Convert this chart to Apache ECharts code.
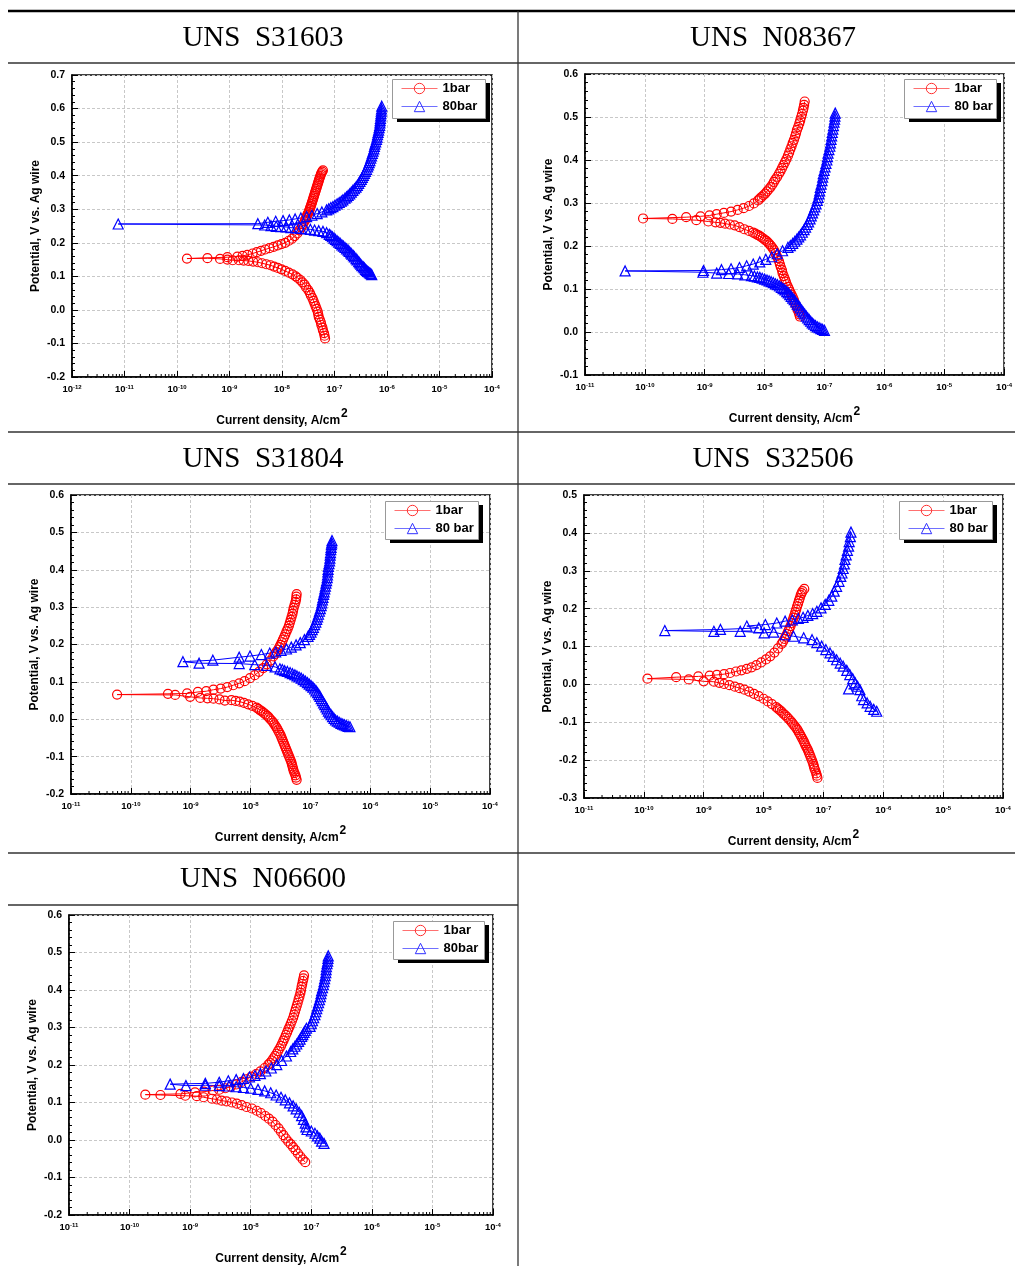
<!DOCTYPE html>
<html><head><meta charset="utf-8">
<script src="https://cdn.jsdelivr.net/npm/echarts@6/dist/echarts.min.js"></script>
<style>html,body{margin:0;padding:0;background:#fff}#c{width:1015px;height:1266px}</style>
</head><body><div id="c"></div>
<script>
// Each point: [log10(current density, A/cm2), potential V vs. Ag wire], in sweep order
const s31603_1bar = [[-7.18,-0.085],[-7.19,-0.077],[-7.20,-0.069],[-7.22,-0.061],[-7.23,-0.053],[-7.25,-0.045],[-7.26,-0.037],[-7.28,-0.029],[-7.30,-0.021],[-7.31,-0.013],[-7.32,-0.005],[-7.34,0.003],[-7.36,0.011],[-7.38,0.019],[-7.40,0.027],[-7.42,0.035],[-7.45,0.043],[-7.47,0.051],[-7.50,0.059],[-7.54,0.067],[-7.57,0.075],[-7.61,0.082],[-7.65,0.089],[-7.70,0.095],[-7.74,0.100],[-7.80,0.106],[-7.87,0.111],[-7.94,0.116],[-8.01,0.121],[-8.08,0.125],[-8.15,0.129],[-8.22,0.133],[-8.30,0.136],[-8.38,0.139],[-8.46,0.142],[-8.55,0.144],[-8.64,0.146],[-8.73,0.147],[-8.82,0.148],[-8.94,0.148],[-9.04,0.150],[-9.18,0.152],[-9.42,0.154],[-9.81,0.153],[-9.04,0.157],[-8.85,0.159],[-8.75,0.161],[-8.66,0.164],[-8.56,0.168],[-8.48,0.172],[-8.40,0.176],[-8.32,0.180],[-8.24,0.184],[-8.16,0.188],[-8.08,0.192],[-8.01,0.196],[-7.94,0.200],[-7.87,0.206],[-7.81,0.212],[-7.76,0.220],[-7.71,0.228],[-7.67,0.237],[-7.63,0.246],[-7.60,0.255],[-7.57,0.264],[-7.555,0.269],[-7.54,0.274],[-7.53,0.279],[-7.52,0.283],[-7.505,0.288],[-7.49,0.292],[-7.48,0.297],[-7.47,0.301],[-7.46,0.306],[-7.45,0.310],[-7.44,0.315],[-7.43,0.320],[-7.42,0.325],[-7.41,0.330],[-7.40,0.335],[-7.39,0.340],[-7.38,0.345],[-7.37,0.350],[-7.36,0.355],[-7.35,0.360],[-7.34,0.365],[-7.33,0.370],[-7.32,0.375],[-7.31,0.380],[-7.30,0.385],[-7.29,0.390],[-7.28,0.395],[-7.27,0.399],[-7.26,0.404],[-7.25,0.408],[-7.235,0.412],[-7.22,0.416]];
const s31603_80bar = [[-6.29,0.105],[-6.31,0.108],[-6.33,0.110],[-6.35,0.113],[-6.37,0.115],[-6.39,0.118],[-6.41,0.121],[-6.43,0.125],[-6.45,0.128],[-6.48,0.132],[-6.50,0.136],[-6.52,0.140],[-6.54,0.144],[-6.57,0.149],[-6.59,0.153],[-6.62,0.158],[-6.64,0.162],[-6.67,0.166],[-6.69,0.170],[-6.72,0.174],[-6.74,0.178],[-6.77,0.182],[-6.80,0.186],[-6.83,0.190],[-6.86,0.194],[-6.89,0.198],[-6.92,0.202],[-6.95,0.206],[-6.98,0.210],[-7.01,0.214],[-7.04,0.218],[-7.07,0.222],[-7.10,0.225],[-7.15,0.230],[-7.22,0.234],[-7.30,0.236],[-7.38,0.238],[-7.46,0.240],[-7.55,0.241],[-7.64,0.243],[-7.73,0.244],[-7.83,0.245],[-7.92,0.247],[-8.02,0.248],[-8.11,0.249],[-8.21,0.251],[-8.33,0.253],[-11.12,0.256],[-8.46,0.257],[-8.27,0.261],[-8.12,0.264],[-7.98,0.266],[-7.86,0.268],[-7.75,0.271],[-7.64,0.274],[-7.53,0.278],[-7.43,0.282],[-7.33,0.287],[-7.24,0.292],[-7.15,0.298],[-7.11,0.301],[-7.07,0.305],[-7.03,0.308],[-6.99,0.312],[-6.95,0.316],[-6.91,0.320],[-6.87,0.324],[-6.84,0.328],[-6.80,0.333],[-6.77,0.337],[-6.74,0.341],[-6.71,0.346],[-6.68,0.351],[-6.65,0.356],[-6.62,0.361],[-6.59,0.366],[-6.565,0.371],[-6.54,0.377],[-6.515,0.383],[-6.49,0.389],[-6.47,0.395],[-6.45,0.401],[-6.43,0.407],[-6.41,0.413],[-6.39,0.419],[-6.37,0.426],[-6.355,0.432],[-6.34,0.439],[-6.325,0.445],[-6.31,0.452],[-6.295,0.459],[-6.28,0.466],[-6.265,0.473],[-6.25,0.480],[-6.24,0.487],[-6.23,0.494],[-6.215,0.501],[-6.20,0.508],[-6.19,0.515],[-6.18,0.522],[-6.17,0.529],[-6.16,0.536],[-6.15,0.543],[-6.14,0.550],[-6.135,0.557],[-6.13,0.564],[-6.125,0.571],[-6.12,0.578],[-6.115,0.585],[-6.11,0.592],[-6.105,0.599],[-6.10,0.607]];
const n08367_1bar = [[-7.41,0.036],[-7.42,0.041],[-7.43,0.046],[-7.45,0.052],[-7.46,0.057],[-7.48,0.063],[-7.50,0.069],[-7.51,0.075],[-7.53,0.081],[-7.55,0.087],[-7.57,0.093],[-7.59,0.099],[-7.61,0.105],[-7.63,0.111],[-7.645,0.117],[-7.66,0.123],[-7.68,0.130],[-7.70,0.137],[-7.71,0.144],[-7.73,0.151],[-7.745,0.158],[-7.76,0.165],[-7.78,0.172],[-7.80,0.178],[-7.82,0.184],[-7.84,0.190],[-7.865,0.195],[-7.89,0.200],[-7.915,0.204],[-7.94,0.208],[-7.97,0.212],[-8.00,0.215],[-8.03,0.218],[-8.06,0.221],[-8.09,0.224],[-8.12,0.226],[-8.155,0.229],[-8.19,0.231],[-8.26,0.235],[-8.34,0.239],[-8.42,0.244],[-8.50,0.248],[-8.58,0.250],[-8.66,0.252],[-8.74,0.254],[-8.82,0.255],[-8.94,0.257],[-9.14,0.260],[-9.54,0.263],[-10.03,0.264],[-9.31,0.267],[-9.07,0.269],[-8.92,0.271],[-8.80,0.274],[-8.68,0.277],[-8.56,0.280],[-8.45,0.284],[-8.35,0.288],[-8.26,0.293],[-8.18,0.299],[-8.11,0.306],[-8.08,0.310],[-8.05,0.314],[-8.02,0.318],[-7.99,0.322],[-7.96,0.327],[-7.93,0.332],[-7.90,0.337],[-7.87,0.343],[-7.845,0.349],[-7.82,0.355],[-7.79,0.361],[-7.76,0.368],[-7.735,0.374],[-7.71,0.381],[-7.685,0.388],[-7.66,0.395],[-7.635,0.402],[-7.61,0.410],[-7.59,0.417],[-7.57,0.425],[-7.55,0.432],[-7.53,0.440],[-7.51,0.447],[-7.49,0.455],[-7.475,0.462],[-7.46,0.470],[-7.44,0.477],[-7.42,0.485],[-7.405,0.492],[-7.39,0.500],[-7.375,0.507],[-7.36,0.515],[-7.35,0.521],[-7.34,0.528],[-7.33,0.536]];
const n08367_80bar = [[-7.00,0.004],[-7.03,0.006],[-7.06,0.008],[-7.09,0.010],[-7.12,0.012],[-7.15,0.015],[-7.18,0.018],[-7.205,0.021],[-7.23,0.025],[-7.255,0.029],[-7.28,0.033],[-7.305,0.037],[-7.33,0.042],[-7.355,0.046],[-7.38,0.051],[-7.405,0.056],[-7.43,0.061],[-7.455,0.065],[-7.48,0.070],[-7.505,0.075],[-7.53,0.079],[-7.555,0.083],[-7.58,0.087],[-7.605,0.091],[-7.63,0.094],[-7.66,0.098],[-7.69,0.101],[-7.72,0.104],[-7.75,0.107],[-7.785,0.110],[-7.82,0.112],[-7.855,0.115],[-7.89,0.117],[-7.925,0.119],[-7.96,0.121],[-8.00,0.123],[-8.04,0.125],[-8.08,0.127],[-8.12,0.128],[-8.17,0.130],[-8.22,0.131],[-8.33,0.133],[-8.45,0.135],[-8.60,0.136],[-8.80,0.137],[-9.03,0.139],[-10.33,0.142],[-9.02,0.143],[-8.72,0.145],[-8.56,0.147],[-8.42,0.150],[-8.30,0.154],[-8.19,0.158],[-8.08,0.163],[-7.98,0.169],[-7.88,0.175],[-7.79,0.182],[-7.70,0.189],[-7.61,0.197],[-7.57,0.201],[-7.53,0.206],[-7.495,0.211],[-7.46,0.216],[-7.43,0.221],[-7.40,0.226],[-7.37,0.232],[-7.34,0.238],[-7.315,0.244],[-7.29,0.250],[-7.265,0.256],[-7.24,0.263],[-7.22,0.270],[-7.20,0.277],[-7.18,0.284],[-7.16,0.291],[-7.14,0.298],[-7.12,0.306],[-7.105,0.313],[-7.09,0.321],[-7.08,0.328],[-7.07,0.336],[-7.055,0.344],[-7.04,0.352],[-7.03,0.360],[-7.02,0.368],[-7.005,0.376],[-6.99,0.384],[-6.975,0.392],[-6.96,0.400],[-6.95,0.408],[-6.94,0.416],[-6.925,0.424],[-6.91,0.432],[-6.90,0.440],[-6.89,0.448],[-6.88,0.456],[-6.87,0.464],[-6.86,0.472],[-6.85,0.480],[-6.84,0.488],[-6.83,0.495],[-6.825,0.502],[-6.82,0.509]];
const s31804_1bar = [[-7.23,-0.162],[-7.24,-0.156],[-7.25,-0.150],[-7.265,-0.144],[-7.28,-0.138],[-7.29,-0.132],[-7.30,-0.126],[-7.31,-0.120],[-7.32,-0.114],[-7.335,-0.108],[-7.35,-0.102],[-7.365,-0.096],[-7.38,-0.090],[-7.395,-0.084],[-7.41,-0.078],[-7.425,-0.072],[-7.44,-0.066],[-7.455,-0.060],[-7.47,-0.054],[-7.485,-0.048],[-7.50,-0.042],[-7.52,-0.036],[-7.54,-0.030],[-7.56,-0.024],[-7.58,-0.019],[-7.60,-0.014],[-7.62,-0.009],[-7.645,-0.004],[-7.67,0.000],[-7.695,0.005],[-7.72,0.009],[-7.75,0.013],[-7.78,0.017],[-7.81,0.021],[-7.84,0.024],[-7.87,0.028],[-7.90,0.031],[-7.97,0.036],[-8.04,0.040],[-8.11,0.044],[-8.18,0.047],[-8.25,0.049],[-8.32,0.051],[-8.43,0.050],[-8.52,0.053],[-8.62,0.055],[-8.72,0.056],[-8.84,0.057],[-9.01,0.060],[-9.26,0.065],[-10.23,0.066],[-9.38,0.068],[-9.06,0.069],[-8.88,0.073],[-8.74,0.075],[-8.62,0.079],[-8.50,0.082],[-8.39,0.086],[-8.29,0.091],[-8.19,0.096],[-8.10,0.102],[-8.01,0.110],[-7.93,0.118],[-7.86,0.127],[-7.79,0.137],[-7.73,0.147],[-7.67,0.157],[-7.62,0.168],[-7.595,0.174],[-7.57,0.180],[-7.545,0.186],[-7.52,0.193],[-7.50,0.199],[-7.48,0.206],[-7.46,0.213],[-7.44,0.220],[-7.42,0.227],[-7.40,0.235],[-7.38,0.242],[-7.36,0.250],[-7.345,0.258],[-7.33,0.266],[-7.315,0.274],[-7.30,0.282],[-7.29,0.290],[-7.28,0.298],[-7.265,0.306],[-7.25,0.314],[-7.24,0.321],[-7.235,0.328],[-7.23,0.335]];
const s31804_80bar = [[-6.34,-0.020],[-6.37,-0.019],[-6.40,-0.017],[-6.43,-0.015],[-6.46,-0.013],[-6.49,-0.011],[-6.52,-0.008],[-6.55,-0.005],[-6.58,-0.002],[-6.605,0.002],[-6.63,0.007],[-6.655,0.012],[-6.68,0.017],[-6.70,0.022],[-6.72,0.028],[-6.74,0.033],[-6.76,0.039],[-6.78,0.044],[-6.80,0.050],[-6.82,0.055],[-6.84,0.061],[-6.86,0.066],[-6.88,0.071],[-6.905,0.076],[-6.93,0.081],[-6.96,0.086],[-6.99,0.090],[-7.02,0.094],[-7.05,0.098],[-7.085,0.102],[-7.12,0.106],[-7.155,0.110],[-7.19,0.113],[-7.225,0.116],[-7.26,0.119],[-7.30,0.122],[-7.34,0.125],[-7.385,0.128],[-7.43,0.130],[-7.47,0.133],[-7.51,0.135],[-7.59,0.140],[-7.73,0.144],[-7.93,0.146],[-8.19,0.149],[-8.86,0.150],[-9.13,0.154],[-8.63,0.158],[-8.19,0.166],[-8.01,0.169],[-7.82,0.173],[-7.68,0.177],[-7.58,0.180],[-7.49,0.184],[-7.40,0.188],[-7.32,0.193],[-7.24,0.199],[-7.17,0.205],[-7.10,0.213],[-7.04,0.222],[-7.015,0.227],[-6.99,0.233],[-6.97,0.240],[-6.95,0.246],[-6.93,0.253],[-6.91,0.260],[-6.895,0.267],[-6.88,0.274],[-6.865,0.281],[-6.85,0.289],[-6.835,0.296],[-6.82,0.304],[-6.81,0.311],[-6.80,0.319],[-6.79,0.326],[-6.78,0.334],[-6.77,0.341],[-6.76,0.349],[-6.75,0.356],[-6.74,0.364],[-6.73,0.371],[-6.72,0.379],[-6.715,0.386],[-6.71,0.394],[-6.705,0.401],[-6.70,0.409],[-6.69,0.416],[-6.68,0.424],[-6.675,0.431],[-6.67,0.439],[-6.665,0.446],[-6.66,0.454],[-6.655,0.460],[-6.65,0.467],[-6.645,0.472],[-6.64,0.478]];
const s32506_1bar = [[-7.10,-0.247],[-7.11,-0.241],[-7.12,-0.235],[-7.135,-0.228],[-7.15,-0.222],[-7.16,-0.216],[-7.17,-0.210],[-7.185,-0.203],[-7.20,-0.197],[-7.215,-0.191],[-7.23,-0.185],[-7.245,-0.179],[-7.26,-0.173],[-7.28,-0.167],[-7.30,-0.161],[-7.315,-0.155],[-7.33,-0.150],[-7.35,-0.144],[-7.37,-0.138],[-7.39,-0.132],[-7.41,-0.127],[-7.43,-0.121],[-7.45,-0.116],[-7.475,-0.111],[-7.50,-0.106],[-7.525,-0.101],[-7.55,-0.096],[-7.58,-0.091],[-7.61,-0.086],[-7.64,-0.081],[-7.67,-0.077],[-7.70,-0.072],[-7.73,-0.068],[-7.76,-0.064],[-7.79,-0.060],[-7.86,-0.052],[-7.93,-0.045],[-8.00,-0.038],[-8.08,-0.031],[-8.16,-0.025],[-8.24,-0.019],[-8.32,-0.014],[-8.40,-0.010],[-8.48,-0.006],[-8.57,-0.002],[-8.66,0.001],[-8.74,0.004],[-8.83,0.007],[-9.00,0.008],[-9.25,0.013],[-9.94,0.015],[-9.46,0.019],[-9.09,0.021],[-8.90,0.023],[-8.78,0.025],[-8.66,0.027],[-8.56,0.030],[-8.46,0.034],[-8.37,0.037],[-8.28,0.041],[-8.20,0.045],[-8.12,0.051],[-8.04,0.058],[-7.96,0.066],[-7.89,0.074],[-7.82,0.084],[-7.76,0.095],[-7.70,0.107],[-7.675,0.113],[-7.65,0.120],[-7.63,0.126],[-7.61,0.133],[-7.59,0.140],[-7.57,0.147],[-7.55,0.154],[-7.53,0.162],[-7.515,0.169],[-7.50,0.176],[-7.485,0.183],[-7.47,0.191],[-7.455,0.198],[-7.44,0.206],[-7.425,0.213],[-7.41,0.221],[-7.395,0.228],[-7.38,0.236],[-7.365,0.241],[-7.35,0.246],[-7.32,0.252]];
const s32506_80bar = [[-6.11,-0.071],[-6.16,-0.066],[-6.22,-0.058],[-6.27,-0.049],[-6.33,-0.040],[-6.36,-0.030],[-6.39,-0.014],[-6.58,-0.012],[-6.43,-0.005],[-6.47,0.004],[-6.51,0.015],[-6.56,0.026],[-6.61,0.037],[-6.67,0.048],[-6.72,0.056],[-6.78,0.065],[-6.84,0.074],[-6.89,0.083],[-6.96,0.092],[-7.03,0.101],[-7.11,0.110],[-7.19,0.118],[-7.33,0.123],[-7.50,0.127],[-7.64,0.131],[-7.83,0.138],[-7.99,0.136],[-8.39,0.140],[-8.83,0.140],[-9.65,0.142],[-8.72,0.145],[-8.08,0.149],[-8.28,0.154],[-7.97,0.158],[-7.78,0.162],[-7.64,0.167],[-7.52,0.170],[-7.42,0.174],[-7.34,0.177],[-7.26,0.182],[-7.18,0.187],[-7.11,0.193],[-7.04,0.202],[-6.97,0.211],[-6.91,0.222],[-6.86,0.233],[-6.82,0.246],[-6.78,0.259],[-6.74,0.272],[-6.71,0.285],[-6.69,0.294],[-6.67,0.306],[-6.65,0.318],[-6.64,0.330],[-6.62,0.342],[-6.60,0.354],[-6.58,0.365],[-6.57,0.377],[-6.55,0.390],[-6.54,0.402]];
const n06600_1bar = [[-7.10,-0.059],[-7.14,-0.052],[-7.18,-0.044],[-7.22,-0.036],[-7.26,-0.027],[-7.30,-0.019],[-7.34,-0.011],[-7.38,-0.004],[-7.42,0.004],[-7.46,0.013],[-7.50,0.022],[-7.54,0.031],[-7.59,0.040],[-7.64,0.049],[-7.70,0.057],[-7.76,0.064],[-7.83,0.072],[-7.90,0.078],[-7.98,0.084],[-8.07,0.088],[-8.15,0.093],[-8.23,0.097],[-8.31,0.100],[-8.40,0.103],[-8.48,0.105],[-8.56,0.108],[-8.64,0.110],[-8.78,0.114],[-8.89,0.117],[-9.08,0.118],[-9.49,0.120],[-9.74,0.121],[-9.16,0.123],[-8.92,0.127],[-8.77,0.129],[-8.62,0.132],[-8.52,0.134],[-8.42,0.138],[-8.33,0.142],[-8.24,0.148],[-8.15,0.155],[-8.07,0.162],[-7.99,0.169],[-7.91,0.176],[-7.84,0.183],[-7.77,0.192],[-7.71,0.201],[-7.68,0.206],[-7.65,0.212],[-7.625,0.218],[-7.60,0.224],[-7.575,0.230],[-7.55,0.237],[-7.525,0.244],[-7.50,0.251],[-7.48,0.258],[-7.46,0.265],[-7.44,0.272],[-7.42,0.280],[-7.40,0.287],[-7.38,0.295],[-7.36,0.302],[-7.34,0.310],[-7.32,0.318],[-7.30,0.326],[-7.285,0.334],[-7.27,0.342],[-7.255,0.350],[-7.24,0.358],[-7.225,0.366],[-7.21,0.375],[-7.195,0.383],[-7.18,0.392],[-7.17,0.400],[-7.16,0.409],[-7.15,0.416],[-7.14,0.424],[-7.13,0.431],[-7.12,0.439]];
const n06600_80bar = [[-6.79,-0.009],[-6.83,-0.003],[-6.86,0.005],[-6.90,0.011],[-6.94,0.018],[-7.00,0.024],[-7.07,0.028],[-7.09,0.035],[-7.10,0.045],[-7.13,0.055],[-7.16,0.065],[-7.20,0.074],[-7.25,0.083],[-7.30,0.091],[-7.36,0.099],[-7.43,0.107],[-7.50,0.114],[-7.58,0.120],[-7.67,0.126],[-7.77,0.131],[-7.88,0.135],[-8.00,0.138],[-8.12,0.140],[-8.24,0.142],[-8.36,0.144],[-8.52,0.145],[-8.75,0.146],[-9.07,0.145],[-9.33,0.149],[-8.75,0.151],[-8.52,0.154],[-8.37,0.158],[-8.24,0.161],[-8.12,0.164],[-8.02,0.168],[-7.93,0.172],[-7.84,0.177],[-7.75,0.184],[-7.66,0.192],[-7.57,0.201],[-7.49,0.212],[-7.41,0.224],[-7.34,0.236],[-7.305,0.243],[-7.27,0.250],[-7.24,0.256],[-7.21,0.263],[-7.185,0.269],[-7.16,0.276],[-7.14,0.281],[-7.12,0.287],[-7.10,0.292],[-7.08,0.298],[-7.02,0.303],[-7.00,0.310],[-6.98,0.318],[-6.96,0.326],[-6.94,0.334],[-6.925,0.342],[-6.91,0.350],[-6.895,0.358],[-6.88,0.366],[-6.865,0.374],[-6.85,0.382],[-6.84,0.390],[-6.83,0.398],[-6.815,0.406],[-6.80,0.414],[-6.79,0.422],[-6.78,0.430],[-6.77,0.438],[-6.76,0.446],[-6.755,0.454],[-6.75,0.462],[-6.74,0.470],[-6.73,0.477],[-6.725,0.484],[-6.72,0.491]];

const panelTitles = ['UNS  S31603', 'UNS  N08367', 'UNS  S31804', 'UNS  S32506', 'UNS  N06600'];
const series1Names = ['1bar', '1bar', '1bar', '1bar', '1bar'];
const series2Names = ['80bar', '80 bar', '80 bar', '80 bar', '80bar'];
const xMinExp = [-12, -11, -11, -11, -11];
const xMaxExp = [-4, -4, -4, -4, -4];
const yMins = [-0.2, -0.1, -0.2, -0.3, -0.2];
const yMaxs = [0.7, 0.6, 0.6, 0.5, 0.6];
const xAxisName = 'Current density, A/cm';
const yAxisName = 'Potential, V vs. Ag wire';

const redData = [s31603_1bar, n08367_1bar, s31804_1bar, s32506_1bar, n06600_1bar];
const blueData = [s31603_80bar, n08367_80bar, s31804_80bar, s32506_80bar, n06600_80bar];

// layout (pixels)
const grids = [
  {left: 72, top: 75, width: 420, height: 302},
  {left: 585, top: 74, width: 420, height: 301},
  {left: 71, top: 495, width: 419, height: 299},
  {left: 584, top: 495, width: 419, height: 303},
  {left: 69, top: 915, width: 424, height: 304}
];
const legendBox = [
  {left: 392, top: 79, w: 93, h: 39}, {left: 904, top: 79, w: 92, h: 39},
  {left: 385, top: 501, w: 93, h: 38}, {left: 899, top: 501, w: 93, h: 38},
  {left: 393, top: 921, w: 91, h: 38}
];
const titlePos = [[263, 38], [773, 38], [263, 459], [773, 459], [263, 879]];

const SANS = '"Liberation Sans", Arial, sans-serif';
const SERIF = '"Liberation Serif", "Times New Roman", serif';

const chart = echarts.init(document.getElementById('c'), null, {renderer: 'canvas'});

const option = {
  animation: false,
  backgroundColor: '#fff',
  grid: grids.map(g => Object.assign({show: true, borderColor: '#000', borderWidth: 1.5, backgroundColor: 'transparent', containLabel: false}, g)),
  xAxis: grids.map((g, i) => ({
    type: 'log', logBase: 10, gridIndex: i,
    min: Math.pow(10, xMinExp[i]), max: Math.pow(10, xMaxExp[i]),
    splitNumber: xMaxExp[i] - xMinExp[i],
    name: '{a|' + xAxisName + '}{b|2}',
    nameLocation: 'middle', nameGap: 31,
    nameTextStyle: {rich: {
      a: {fontFamily: SANS, fontSize: 12, fontWeight: 'bold', color: '#000', verticalAlign: 'bottom'},
      b: {fontFamily: SANS, fontSize: 12, fontWeight: 'bold', color: '#000', verticalAlign: 'bottom', padding: [0, 0, 7, 1]}
    }},
    axisLine: {show: true, onZero: false, lineStyle: {color: '#000', width: 1.5}},
    axisTick: {show: true, inside: true, length: 6, lineStyle: {color: '#000', width: 1}},
    minorTick: {show: false},
    splitLine: {show: true, lineStyle: {color: '#c8c8c8', type: [3, 2], width: 1}},
    axisLabel: {
      margin: 7,
      formatter: v => '{a|10}{b|' + Math.round(Math.log10(v)) + '}',
      rich: {
        a: {fontFamily: SANS, fontSize: 9.5, fontWeight: 'bold', color: '#000', verticalAlign: 'bottom'},
        b: {fontFamily: SANS, fontSize: 6, fontWeight: 'bold', color: '#000', verticalAlign: 'bottom', padding: [0, 0, 4, 0]}
      }
    }
  })),
  yAxis: grids.map((g, i) => ({
    type: 'value', gridIndex: i, min: yMins[i], max: yMaxs[i], interval: 0.1,
    name: yAxisName, nameLocation: 'middle', nameGap: 30,
    nameTextStyle: {fontFamily: SANS, fontSize: 12, fontWeight: 'bold', color: '#000'},
    axisLine: {show: true, onZero: false, lineStyle: {color: '#000', width: 1.5}},
    axisTick: {show: true, inside: true, length: 6, lineStyle: {color: '#000', width: 1}},
    minorTick: {show: true, splitNumber: 5, length: 3, lineStyle: {color: '#000', width: 1}},
    splitLine: {show: true, lineStyle: {color: '#c8c8c8', type: [3, 2], width: 1}},
    axisLabel: {margin: 7, fontFamily: SANS, fontSize: 10.5, fontWeight: 'bold', color: '#000', formatter: v => v.toFixed(1)}
  })),
  legend: grids.map((g, i) => ({
    left: legendBox[i].left, top: legendBox[i].top, orient: 'vertical', align: 'left', z: 6,
    data: [
      {name: series1Names[i], lineStyle: {color: '#ff7070', width: 1}, itemStyle: {borderColor: '#ff3030', borderWidth: 1}},
      {name: series2Names[i], lineStyle: {color: '#7070ff', width: 1}, itemStyle: {borderColor: '#3030ff', borderWidth: 1}}
    ],
    selectedMode: false,
    itemWidth: 36, itemHeight: 13, itemGap: 5, padding: [3, 4, 3, 9],
    backgroundColor: 'transparent', borderWidth: 0,
    textStyle: {fontFamily: SANS, fontSize: 13, fontWeight: 'bold', color: '#000'}
  })),
  graphic: [],
  series: []
};

grids.forEach((g, i) => {
  option.series.push({
    type: 'line', name: series1Names[i], xAxisIndex: i, yAxisIndex: i,
    data: redData[i].map(p => [Math.pow(10, p[0]), p[1]]),
    symbol: 'circle', symbolSize: 9, showAllSymbol: true, silent: true,
    itemStyle: {color: 'rgba(255,0,0,0)', borderColor: '#ff0000', borderWidth: 1.2},
    lineStyle: {color: '#ff0000', width: 1}, z: 2
  });
  option.series.push({
    type: 'line', name: series2Names[i], xAxisIndex: i, yAxisIndex: i,
    data: blueData[i].map(p => [Math.pow(10, p[0]), p[1]]),
    symbol: 'triangle', symbolSize: 10, showAllSymbol: true, silent: true,
    itemStyle: {color: 'rgba(0,0,255,0)', borderColor: '#0000ff', borderWidth: 1.2},
    lineStyle: {color: '#0000ff', width: 1}, z: 2
  });
  // minor log ticks (2..9 x 10^k) along the bottom axis
  const minor = [];
  for (let e = xMinExp[i]; e < xMaxExp[i]; e++) for (let k = 2; k <= 9; k++) minor.push([k * Math.pow(10, e), yMins[i]]);
  option.series.push({
    type: 'custom', xAxisIndex: i, yAxisIndex: i, silent: true, z: 5, clip: false,
    data: minor,
    renderItem: (params, api) => {
      const p = api.coord([api.value(0), api.value(1)]);
      return {type: 'line', shape: {x1: p[0], y1: p[1], x2: p[0], y2: p[1] - 3}, style: {stroke: '#000', lineWidth: 1}};
    }
  });
  // legend frame with drop shadow
  const b = legendBox[i];
  option.graphic.push({type: 'rect', silent: true, z: 4, shape: {x: b.left + 5, y: b.top + 4, width: b.w, height: b.h}, style: {fill: '#000'}});
  option.graphic.push({type: 'rect', silent: true, z: 5, shape: {x: b.left + 0.5, y: b.top + 0.5, width: b.w, height: b.h}, style: {fill: '#fff', stroke: '#999', lineWidth: 1}});
});

// table rules
const rule = (x1, y1, x2, y2, w, c) => ({type: 'line', silent: true, z: 10, shape: {x1, y1, x2, y2}, style: {stroke: c || '#333', lineWidth: w || 1.3}});
option.graphic.push(rule(8, 11, 1015, 11, 2.5, '#000'));
option.graphic.push(rule(8, 63, 1015, 63));
option.graphic.push(rule(8, 432, 1015, 432));
option.graphic.push(rule(8, 484, 1015, 484));
option.graphic.push(rule(8, 853, 1015, 853));
option.graphic.push(rule(8, 905, 518, 905));
option.graphic.push(rule(518, 11, 518, 1266));
panelTitles.forEach((t, i) => {
  option.graphic.push({type: 'text', silent: true, z: 10, x: titlePos[i][0], y: titlePos[i][1],
    style: {text: t, fill: '#000', font: '29px ' + SERIF, align: 'center', verticalAlign: 'middle'}});
});

chart.setOption(option);
</script>
</body></html>
